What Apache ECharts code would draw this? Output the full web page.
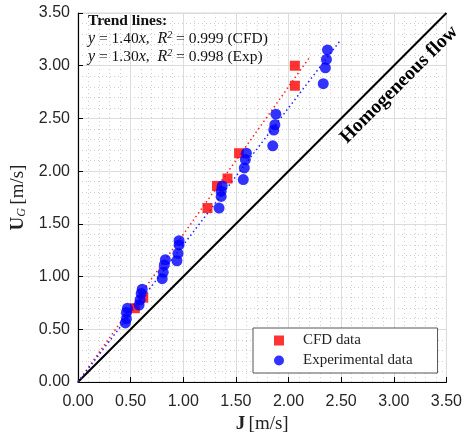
<!DOCTYPE html>
<html><head><meta charset="utf-8">
<script src="https://cdn.jsdelivr.net/npm/echarts@6/dist/echarts.min.js"></script>
<style>html,body{margin:0;padding:0;background:#fff}#c{width:465px;height:439px}</style>
</head><body><div id="c"></div>
<script>
// CFD data: [J, UG]
var cfdJ  = [0.54, 0.62, 1.23, 1.32, 1.42, 1.53, 2.06, 2.06];
var cfdUG = [0.70, 0.80, 1.65, 1.86, 1.93, 2.17, 2.81, 3.00];
// Experimental data: [J, UG]
var expJ  = [0.45, 0.46, 0.46, 0.47, 0.58, 0.59, 0.60, 0.61,
             0.80, 0.81, 0.82, 0.83, 0.94, 0.95, 0.96, 0.96,
             1.34, 1.36, 1.36, 1.37, 1.57, 1.58, 1.59, 1.60,
             1.85, 1.86, 1.87, 1.88, 2.33, 2.35, 2.36, 2.37];
var expUG = [0.56, 0.60, 0.66, 0.70, 0.73, 0.78, 0.84, 0.88,
             0.98, 1.04, 1.11, 1.16, 1.15, 1.22, 1.30, 1.34,
             1.65, 1.76, 1.81, 1.86, 1.92, 2.03, 2.11, 2.17,
             2.24, 2.39, 2.44, 2.54, 2.83, 2.98, 3.06, 3.15];
// trend line endpoints
var cfdTrendJ = [0, 2.20], cfdTrendUG = [0, 3.08];
var expTrendJ = [0, 2.50], expTrendUG = [0, 3.25];
// homogeneous flow line
var homJ = [0, 3.5], homUG = [0, 3.5];
var ticks = ['0.00','0.50','1.00','1.50','2.00','2.50','3.00','3.50'];

function pairs(a,b){return a.map(function(v,i){return [v,b[i]];});}
var serif = '"Liberation Serif", "DejaVu Serif", serif';
var sans = '"Liberation Sans", Arial, sans-serif';

var chart = echarts.init(document.getElementById('c'));
function axis(){
  return {
    type:'value', min:0, max:3.5, interval:0.5,
    axisLine:{show:true, onZero:false, lineStyle:{color:'#000', width:1.2}},
    axisTick:{show:true, inside:true, length:5, lineStyle:{color:'#000'}},
    axisLabel:{color:'#262626', fontFamily:sans, fontSize:16,
      formatter:function(v){return ticks[Math.round(v/0.5)];}},
    splitLine:{show:true, lineStyle:{color:'#dcdcdc', width:1}},
    minorTick:{show:false, splitNumber:5},
    minorSplitLine:{show:true, lineStyle:{color:'#d0d0d0', width:1, type:[1,3]}}
  };
}
var xa = axis();
xa.name = '{b|J} {n|[m/s]}';
xa.nameLocation='middle'; xa.nameGap=28;
xa.nameTextStyle={rich:{b:{fontFamily:serif,fontWeight:'bold',fontSize:19,color:'#222'},n:{fontFamily:serif,fontSize:19,color:'#222'}}};
xa.axisLabel.margin = 12;
var ya = axis();
ya.name = '{b|U}{s|G} {n|[m/s]}';
ya.nameLocation='middle'; ya.nameGap=45; ya.nameRotate=90;
ya.nameTextStyle={rich:{b:{fontFamily:serif,fontWeight:'bold',fontSize:19,color:'#222'},
  s:{fontFamily:serif,fontStyle:'italic',fontSize:12,color:'#222',padding:[8,0,0,0]},
  n:{fontFamily:serif,fontSize:19,color:'#222'}}};
ya.axisLabel.margin = 8;

chart.setOption({
  animation:false,
  grid:{left:78, right:18, top:13, bottom:57, show:true, borderColor:'#d8d8d8', borderWidth:1, backgroundColor:'transparent'},
  xAxis:xa, yAxis:ya,
  legend:{
    orient:'vertical', left:253, top:328,
    backgroundColor:'#fff', borderColor:'#555', borderWidth:1,
    padding:[5,25,5,21], itemGap:5, itemWidth:10, itemHeight:10,
    textStyle:{fontFamily:serif, fontSize:15, color:'#222', padding:[0,0,0,14]},
    data:[{name:'CFD data', icon:'rect'},{name:'Experimental data', icon:'circle'}]
  },
  series:[
    {type:'line', data:pairs(homJ,homUG), symbol:'none', lineStyle:{color:'#000', width:2}, silent:true, z:2},
    {type:'line', data:pairs(cfdTrendJ,cfdTrendUG), symbol:'none', lineStyle:{color:'#ff2020', width:1.5, type:[1.5,3]}, z:2},
    {type:'line', data:pairs(expTrendJ,expTrendUG), symbol:'none', lineStyle:{color:'#2020ff', width:1.5, type:[1.5,3]}, z:2},
    {name:'CFD data', type:'scatter', data:pairs(cfdJ,cfdUG), symbol:'rect', symbolSize:10, itemStyle:{color:'#ff0000'}, z:3},
    {name:'Experimental data', type:'scatter', data:pairs(expJ,expUG), symbol:'circle', symbolSize:11, itemStyle:{color:'#0000ff'}, z:4}
  ]
});
var p = chart.convertToPixel({gridIndex:0},[3.05,2.82]);
chart.setOption({graphic:[
  {type:'text', left:88, top:12, style:{text:'{h|Trend lines:}\n{i|y} = 1.40{i|x},  {i|R}{s|2} = 0.999 (CFD)\n{i|y} = 1.30{i|x},  {i|R}{s|2} = 0.998 (Exp)',
    font:'15.5px '+serif, fill:'#111', lineHeight:18,
    rich:{h:{fontFamily:serif,fontWeight:'bold',fontSize:15.5,fill:'#111'},
          i:{fontFamily:serif,fontStyle:'italic',fontSize:16},
          s:{fontFamily:serif,fontStyle:'italic',fontSize:10,padding:[0,0,8,0]}}}},
  {type:'text', x:p[0], y:p[1], rotation:Math.PI/4,
    style:{text:'Homogeneous flow', font:'bold 19.5px '+serif, fill:'#000', align:'center', verticalAlign:'middle'}}
]});
</script></body></html>
